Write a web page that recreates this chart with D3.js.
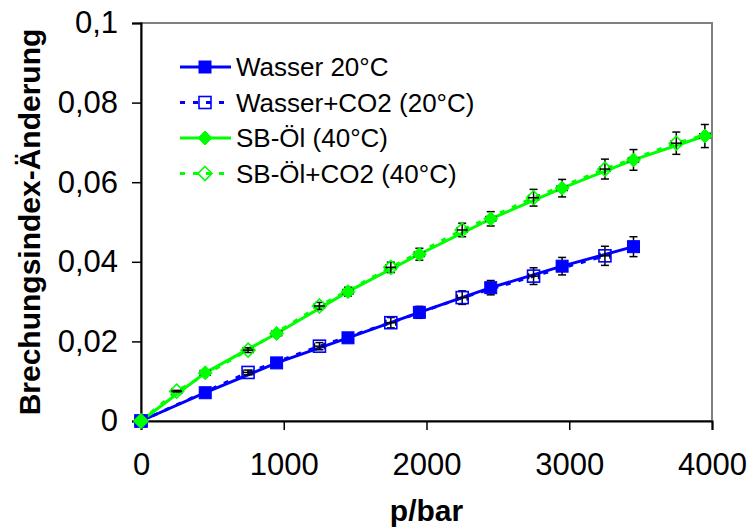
<!DOCTYPE html>
<html>
<head>
<meta charset="utf-8">
<script src="https://cdn.jsdelivr.net/npm/d3@7"></script>
<style>
  body { margin: 0; background: #fff; }
  text { font-family: "Liberation Sans", Arial, sans-serif; fill: #000; }
</style>
</head>
<body>
<script>
var width = 747,
    height = 529;

// Daten
const pWasser = [0, 450, 950, 1450, 1950, 2450, 2950, 3450];
const nWasser = [0, 0.0071, 0.0146, 0.0209, 0.0273, 0.0335, 0.0389, 0.0438];
const eWasser = [0, 0.0003, 0.0007, 0.0011, 0.0015, 0.0018, 0.0022, 0.0025];

const pWasserCO2 = [0, 750, 1250, 1750, 2250, 2750, 3250];
const nWasserCO2 = [0, 0.0122, 0.0188, 0.0247, 0.0310, 0.0364, 0.0415];
const eWasserCO2 = [0, 0.0006, 0.0009, 0.0013, 0.0017, 0.0021, 0.0024];

const pOel = [0, 450, 950, 1450, 1950, 2450, 2950, 3450, 3950];
const nOel = [0, 0.0121, 0.0220, 0.0325, 0.0419, 0.0508, 0.0585, 0.0656, 0.0716];
const eOel = [0, 0.0003, 0.0007, 0.0011, 0.0015, 0.0018, 0.0022, 0.0026, 0.0029];

const pOelCO2 = [0, 250, 750, 1250, 1750, 2250, 2750, 3250, 3750, 4050];
const nOelCO2 = [0, 0.0075, 0.0178, 0.0289, 0.0386, 0.0480, 0.0561, 0.0633, 0.0698, 0.0729];
const eOelCO2 = [0, 0.0002, 0.0006, 0.0009, 0.0013, 0.0017, 0.0021, 0.0025, 0.0028, 0];

const pErr = 35; // horizontaler Fehler in bar

const xTicks = [0, 1000, 2000, 3000, 4000];
const yTicks = [0, 0.02, 0.04, 0.06, 0.08, 0.1];

const seriesNames = ["Wasser 20°C", "Wasser+CO2 (20°C)", "SB-Öl (40°C)", "SB-Öl+CO2 (40°C)"];
const seriesColors = ["#0000ff", "#0000ff", "#00ff00", "#00ff00"];
const seriesDashed = [false, true, false, true];
const seriesMarker = ["square", "square", "diamond", "diamond"];
const seriesFilled = [true, false, true, false];

var series = [
    { p: pWasser, n: nWasser, e: eWasser },
    { p: pWasserCO2, n: nWasserCO2, e: eWasserCO2 },
    { p: pOel, n: nOel, e: eOel },
    { p: pOelCO2, n: nOelCO2, e: eOelCO2 }
].map((s, i) => ({
    name: seriesNames[i],
    color: seriesColors[i],
    dashed: seriesDashed[i],
    marker: seriesMarker[i],
    filled: seriesFilled[i],
    points: s.p.map((p, j) => ({ p: p, n: s.n[j], e: s.e[j] }))
}));

var svg = d3.select("body").append("svg")
    .attr("width", width)
    .attr("height", height);

svg.append("rect").attr("width", width).attr("height", height).attr("fill", "#fff");

var x = d3.scaleLinear().domain([0, 4000]).range([141, 712]);
var y = d3.scaleLinear().domain([0, 0.1]).range([421, 23]);

// Rahmen der Zeichenfläche
svg.append("rect")
    .attr("x", x(0)).attr("y", y(0.1))
    .attr("width", x(4000) - x(0)).attr("height", y(0) - y(0.1))
    .attr("fill", "none").attr("stroke", "#808080").attr("stroke-width", 2);

function fmt(d) { return d === 0 ? "0" : String(d).replace(".", ","); }

var xAxis = svg.append("g")
    .attr("transform", "translate(0," + y(0) + ")")
    .call(d3.axisBottom(x).tickValues(xTicks).tickSize(9).tickPadding(23).tickFormat(d => d));
var yAxis = svg.append("g")
    .attr("transform", "translate(" + x(0) + ",0)")
    .call(d3.axisLeft(y).tickValues(yTicks).tickSize(9).tickPadding(14).tickFormat(fmt));

[xAxis, yAxis].forEach(a => {
    a.select(".domain").attr("stroke", "#000").attr("stroke-width", 2);
    a.selectAll(".tick line").attr("stroke", "#000").attr("stroke-width", 1.5);
    a.selectAll(".tick text").style("font-size", "31px").attr("fill", "#000");
});
xAxis.selectAll(".tick text").attr("dy", "0.71em");

// Achsentitel
svg.append("text")
    .attr("x", (x(0) + x(4000)) / 2).attr("y", 521)
    .attr("text-anchor", "middle")
    .style("font-size", "30px").style("font-weight", "bold")
    .text("p/bar");

svg.append("text")
    .attr("transform", "translate(40," + (y(0) + y(0.1)) / 2 + ") rotate(-90)")
    .attr("text-anchor", "middle")
    .style("font-size", "30px").style("font-weight", "bold")
    .text("Brechungsindex-Änderung");

var line = d3.line().x(d => x(d.p)).y(d => y(d.n));

function drawMarker(g, type, filled, color, cx, cy) {
    if (type === "square") {
        g.append("rect")
            .attr("x", cx - 6).attr("y", cy - 6)
            .attr("width", 12).attr("height", 12)
            .attr("fill", filled ? color : "none")
            .attr("stroke", color).attr("stroke-width", filled ? 1 : 1.6);
    } else {
        var r = 7;
        g.append("path")
            .attr("d", `M${cx},${cy - r}L${cx + r},${cy}L${cx},${cy + r}L${cx - r},${cy}Z`)
            .attr("fill", filled ? color : "none")
            .attr("stroke", color).attr("stroke-width", filled ? 1 : 1.6);
    }
}

// Linien
series.forEach(s => {
    svg.append("path")
        .datum(s.points)
        .attr("d", line)
        .attr("fill", "none")
        .attr("stroke", s.color)
        .attr("stroke-width", 3)
        .attr("stroke-dasharray", s.dashed ? "5,8" : null);
});

// Fehlerbalken
var eb = svg.append("g").attr("stroke", "#000").attr("stroke-width", 1.5);
series.forEach(s => {
    s.points.filter(d => d.p > 0 && d.p <= 4000).forEach(d => {
        var cx = x(d.p), cy = y(d.n);
        var y1 = y(d.n + d.e), y2 = y(d.n - d.e);
        eb.append("line").attr("x1", cx).attr("x2", cx).attr("y1", y1).attr("y2", y2);
        eb.append("line").attr("x1", cx - 4).attr("x2", cx + 4).attr("y1", y1).attr("y2", y1);
        eb.append("line").attr("x1", cx - 4).attr("x2", cx + 4).attr("y1", y2).attr("y2", y2);
        var x1 = x(d.p - pErr), x2 = x(d.p + pErr);
        eb.append("line").attr("x1", x1).attr("x2", x2).attr("y1", cy).attr("y2", cy);
        eb.append("line").attr("x1", x1).attr("x2", x1).attr("y1", cy - 3).attr("y2", cy + 3);
        eb.append("line").attr("x1", x2).attr("x2", x2).attr("y1", cy - 3).attr("y2", cy + 3);
    });
});

// Marker
var mk = svg.append("g");
series.forEach(s => {
    s.points.filter(d => d.p <= 4000).forEach(d => {
        drawMarker(mk, s.marker, s.filled, s.color, x(d.p), y(d.n));
    });
});

// Legende
var legend = svg.append("g");
series.forEach((s, i) => {
    var ly = 67 + i * 35.5;
    legend.append("line")
        .attr("x1", 180).attr("x2", 231).attr("y1", ly).attr("y2", ly)
        .attr("stroke", s.color).attr("stroke-width", 3)
        .attr("stroke-dasharray", s.dashed ? "5,8" : null);
    drawMarker(legend, s.marker, s.filled, s.color, 205, ly);
    legend.append("text")
        .attr("x", 236).attr("y", ly)
        .attr("dy", "0.35em")
        .style("font-size", "26px")
        .text(s.name);
});
</script>
</body>
</html>
